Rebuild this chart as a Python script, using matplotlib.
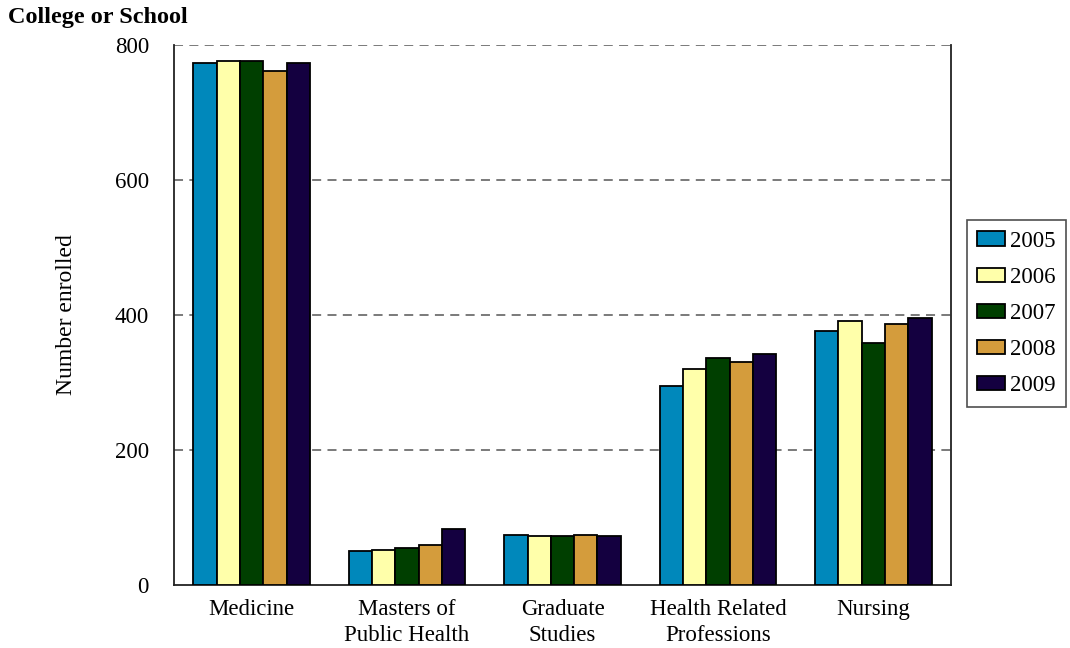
import matplotlib
matplotlib.use("Agg")
import matplotlib.pyplot as plt
import numpy as np

categories = ["Medicine", "Masters of\nPublic Health", "Graduate\nStudies",
              "Health Related\nProfessions", "Nursing"]
years = ["2005", "2006", "2007", "2008", "2009"]
v2005 = [773, 51, 74, 295, 376]
v2006 = [777, 52, 73, 320, 391]
v2007 = [776, 55, 72, 337, 359]
v2008 = [762, 60, 74, 330, 387]
v2009 = [773, 83, 72, 342, 395]
series = [v2005, v2006, v2007, v2008, v2009]
colors = ["#0088BB", "#FFFFAA", "#003F00", "#D49C3C", "#140040"]
yticks = [0, 200, 400, 600, 800]

plt.rcParams['font.family'] = ['Liberation Serif', 'DejaVu Serif']

fig = plt.figure(figsize=(10.70, 6.48), dpi=100)
ax = fig.add_axes([174/1070, 63/648, 777/1070, 540/648])

x = np.arange(len(categories))
bw = 0.15
for i, (vals, c, y) in enumerate(zip(series, colors, years)):
    ax.bar(x + (i - 2) * bw, vals, width=bw, color=c, edgecolor="black",
           linewidth=1.3, label=y, zorder=3)

ax.set_xlim(-0.5, len(categories) - 0.5)
ax.set_ylim(0, 800)
ax.set_yticks(yticks)
ax.set_yticklabels([str(t) for t in yticks], fontsize=16.5)
ax.set_xticks(x)
ax.set_xticklabels(categories, fontsize=16.5, linespacing=1.35)
ax.tick_params(axis='x', length=0, pad=10)
ax.tick_params(axis='y', length=0, pad=18)
for t in yticks[1:]:
    ax.axhline(t, color="#707070", linestyle=(0, (5, 3.5)), linewidth=1.3, zorder=1)
ax.spines['top'].set_visible(False)
for s in ['left', 'right', 'bottom']:
    ax.spines[s].set_color('#222222')
    ax.spines[s].set_linewidth(1.3)

ax.set_ylabel("Number enrolled", fontsize=17, labelpad=27)
fig.text(8/1070, 1 - 17/648, "College or School", fontsize=17.5, fontweight='bold',
         va='center', ha='left')

leg = fig.legend(loc='center left', bbox_to_anchor=(967/1070, 1 - 313.5/648),
                 fontsize=16.5, frameon=True, fancybox=False, edgecolor='#222222',
                 handlelength=1.22, handleheight=0.6, handletextpad=0.2,
                 labelspacing=0.66, borderpad=0.45, borderaxespad=0)
leg.get_frame().set_linewidth(1.2)

fig.savefig("out.png", dpi=100)
